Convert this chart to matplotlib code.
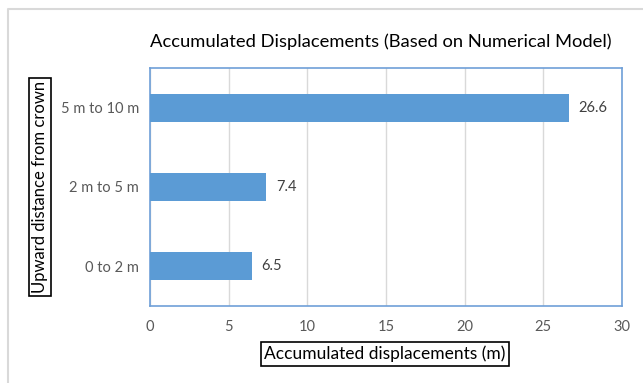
import matplotlib.pyplot as plt
from matplotlib.lines import Line2D

categories = ['0 to 2 m', '2 m to 5 m', '5 m to 10 m']
values = [6.5, 7.4, 26.6]
xticks = [0, 5, 10, 15, 20, 25, 30]

plt.rcParams['font.family'] = ['Lato', 'DejaVu Sans']

fig = plt.figure(figsize=(6.43, 3.83), dpi=100)
# light outer frame (top and left visible in the original crop)
W, H = 643, 383
fig.lines.append(Line2D([7.5 / W, 7.5 / W, 642 / W], [0, 1 - 9 / H, 1 - 9 / H],
                        transform=fig.transFigure, color='#d9d9d9', linewidth=1.5))
ax = fig.add_axes([150 / W, 77 / H, 472 / W, 238 / H])

ypos = list(range(len(categories)))
ax.barh(ypos, values, height=0.35, color='#5b9bd5', zorder=3)
for y, v in zip(ypos, values):
    ax.text(v + 0.6, y, '{:.1f}'.format(v), va='center', ha='left',
            fontsize=10.5, color='#404040')

ax.set_xlim(0, 30)
ax.set_ylim(-0.5, 2.5)
ax.set_xticks(xticks)
ax.set_xticklabels([str(t) for t in xticks])
ax.set_yticks(ypos)
ax.set_yticklabels(categories)
ax.tick_params(axis='both', length=0, labelsize=10.5, colors='#595959')
ax.tick_params(axis='x', pad=10)
ax.tick_params(axis='y', pad=8)
ax.grid(axis='x', color='#d9d9d9', linewidth=1, zorder=0)
for s in ax.spines.values():
    s.set_color('#6fa0d8')
    s.set_linewidth(1.2)

fig.text(381 / W, 1 - 42 / H, 'Accumulated Displacements (Based on Numerical Model)',
         ha='center', va='center', fontsize=13.2, color='#000000')

box = dict(boxstyle='square,pad=0.2', facecolor='white', edgecolor='black', linewidth=1.2)
fig.text(385 / W, 1 - 354 / H, 'Accumulated displacements (m)',
         ha='center', va='center', fontsize=12.5, bbox=box)
fig.text(40 / W, 1 - 187 / H, 'Upward distance from crown',
         ha='center', va='center', fontsize=12, rotation=90, bbox=box)

fig.savefig('out.png', dpi=100)
